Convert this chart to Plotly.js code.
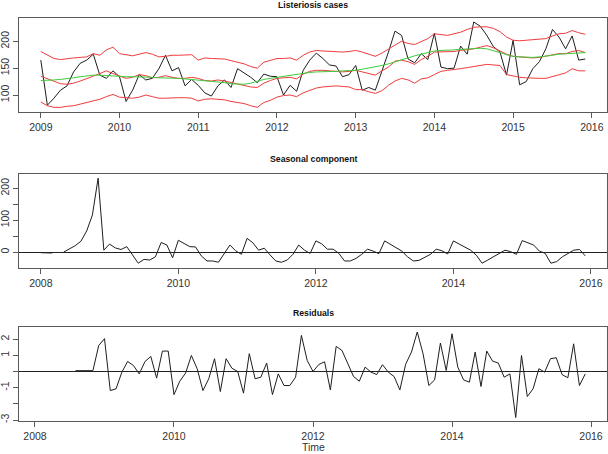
<!DOCTYPE html>
<html><head><meta charset="utf-8">
<script src="https://cdn.plot.ly/plotly-3.0.1.min.js"></script>
<style>html,body{margin:0;padding:0;background:#fff}#chart{width:608px;height:454px}</style>
</head><body><div id="chart"></div><script>
// ---- Data (monthly) ----
const topStartYear = 2009;
const observed = [
  165, 81, 94, 109, 117, 143, 159, 165, 176, 137, 131, 145,
  134, 88, 109, 138, 128, 131, 149, 174, 145, 151, 117, 129,
  118, 104, 98, 117, 128, 114, 149, 141, 133, 123, 139, 135,
  134, 100, 118, 107, 146, 165, 178, 168, 156, 154, 134, 138,
  155, 109, 114, 109, 143, 180, 219, 211, 167, 160, 177, 166,
  215, 152, 149, 150, 191, 176, 236, 228, 211, 190, 180, 137,
  202, 119, 125, 149, 162, 186, 222, 208, 186, 210, 165, 167
];
const trend = [
  127, 127, 128, 129, 130, 132, 134, 136, 137, 137, 136, 135,
  135, 134, 134, 134, 133, 133, 132, 132, 131, 131, 130, 129,
  128, 127, 126, 125, 123, 121, 120, 120, 122, 126, 129, 131,
  133, 135, 137, 139, 141, 142, 143, 143, 144, 144, 145, 145,
  146, 148, 150, 152, 155, 158, 162, 165, 169, 173, 176, 179,
  182, 183, 183, 184, 185, 186, 187, 187, 186, 183, 179, 175,
  172, 171, 170, 170, 171, 172, 174, 176, 177, 178, 179, 179
];
const fitted = [
  135, 130, 125, 121, 120, 122, 126, 130, 135, 140, 145, 140,
  135, 131, 133, 138, 136, 132, 133, 136, 133, 131, 131, 133,
  131, 127, 126, 128, 126, 123, 121, 118, 115, 114, 122, 127,
  131, 132, 133, 130, 139, 144, 146, 146, 145, 144, 143, 144,
  146, 143, 140, 137, 145, 152, 163, 165, 162, 157, 166, 172,
  180, 180, 180, 181, 183, 184, 186, 189, 192, 188, 182, 176,
  172, 171, 170, 169, 170, 172, 175, 177, 177, 181, 183, 179
];
const upperBand = [
  181, 175, 168, 166, 168, 169, 170, 171, 177, 174, 184, 189,
  177, 175, 173, 176, 179, 176, 171, 172, 174, 174, 174, 175,
  165, 169, 168, 168, 167, 164, 161, 158, 153, 150, 161, 165,
  168, 168, 169, 165, 174, 180, 183, 182, 181, 181, 180, 181,
  183, 180, 176, 172, 178, 186, 193, 200, 196, 194, 200, 205,
  214, 212, 211, 214, 217, 222, 226, 227, 227, 224, 218, 208,
  202, 201, 202, 202, 203, 205, 210, 214, 215, 220, 216, 213
];
const lowerBand = [
  87, 80, 77, 77, 79, 80, 83, 86, 89, 92, 97, 101,
  96, 95, 94, 96, 100, 97, 94, 94, 95, 95, 95, 94,
  89, 92, 93, 92, 91, 88, 86, 84, 80, 77, 86, 90,
  96, 99, 100, 97, 104, 109, 113, 115, 116, 117, 116, 115,
  110, 110, 106, 103, 108, 118, 126, 131, 128, 122, 130, 132,
  138, 144, 146, 147, 149, 151, 153, 156, 157, 156, 155, 138,
  135, 133, 132, 131, 131, 131, 134, 137, 141, 149, 145, 145
];

const seasonalStartYear = 2008;
const seasonal = [
  -2, -3, -3, null, 0, 9, 20, 34, 66, 116, 232, 6,
  25, 13, 8, 17, -9, -35, -23, -25, -15, 30, 22, -18,
  37, 26, 17, 16, -12, -28, -28, -32, -4, 22, 4, -7,
  43, 29, 6, 12, -9, -28, -32, -25, -7, 22, 6, -4,
  35, 26, 9, 9, -4, -28, -28, -20, -7, 9, 3, -5,
  35, 25, 14, 3, -15, -28, -26, -17, -7, 9, 4, -6,
  35, 25, 15, 6, -10, -35, -25, -15, -4, 6, 1, -7,
  36, 29, 22, 3, -4, -35, -30, -15, -4, 6, 8, -12
];

const residualStartYear = 2008, residualStartMonth = 1; // February 2008
const residuals = [
  null, null, null, null, null, null, 0.05, 0.05, 0.05, 0.05, 1.6,
  2.03, -1.18, -1.07, -0.04, 0.62, 0.37, -0.15, 0.62, 0.93, -0.41, 1.26, 1.26,
  -1.43, -0.6, -0.1, 0.99, 0.17, -1.18, -0.45, 0.79, -1.24, 0.79, 0.2, 0,
  -1.34, 1.1, -0.45, -0.35, 0.52, -1.43, -0.15, -0.87, -0.87, -0.35, 2.23, 0.68,
  0.0, 0.43, 0.6, -1.14, 1.55, 1.3, 0.48, -0.31, -0.6, 0.27, -0.04, -0.19,
  0.42, -0.04, -0.31, -1.14, 0.45, 1.2, 2.44, 1.1, -0.87, -0.52, 1.76, 0.06,
  2.33, 0.27, -0.52, -0.66, 1.2, -0.93, 1.26, 0.64, 0.52, -0.35, -0.15, -2.85,
  0.99, -1.55, -1.07, 0.17, -0.04, 0.79, 0.85, -0.19, -0.39, 1.71, -0.87, -0.15
];

const topXTicks = [2009, 2010, 2011, 2012, 2013, 2014, 2015, 2016];
const lowXTicks = [2008, 2010, 2012, 2014, 2016];
const topYTicks = [100, 150, 200];
const seasYTicks = [0, 50, 100, 150, 200];
const seasYLabels = ['0', '', '100', '', '200'];
const resYTicks = [-3, -2, -1, 0, 1, 2];
const resYLabels = ['-3', '', '-1', '', '1', '2'];
const titles = ['Listeriosis cases', 'Seasonal component', 'Residuals'];
const xLabel = 'Time';

// ---- time index ----
const monthly = (y0, m0, n) => Array.from({length: n}, (_, i) => y0 + (m0 + i) / 12);
const xTop = monthly(topStartYear, 0, observed.length);
const xSeas = monthly(seasonalStartYear, 0, seasonal.length);
const xRes = monthly(residualStartYear, residualStartMonth, residuals.length);

const BLACK = '#1e1e1e', RED = '#f03c3c', GREEN = '#3ccc3c';
const line = (c) => ({color: c, width: 1});
const traces = [
  {x: xTop, y: observed, xaxis: 'x', yaxis: 'y', mode: 'lines', line: line(BLACK)},
  {x: xTop, y: upperBand, xaxis: 'x', yaxis: 'y', mode: 'lines', line: line(RED)},
  {x: xTop, y: fitted, xaxis: 'x', yaxis: 'y', mode: 'lines', line: line(RED)},
  {x: xTop, y: lowerBand, xaxis: 'x', yaxis: 'y', mode: 'lines', line: line(RED)},
  {x: xTop, y: trend, xaxis: 'x', yaxis: 'y', mode: 'lines', line: line(GREEN)},
  {x: xSeas, y: seasonal, xaxis: 'x2', yaxis: 'y2', mode: 'lines', line: line(BLACK), connectgaps: false},
  {x: xRes, y: residuals, xaxis: 'x3', yaxis: 'y3', mode: 'lines', line: line(BLACK), connectgaps: false}
];

const FONT = {family: 'Liberation Sans, Arial, sans-serif', size: 10.5, color: '#333'};
const axBase = {
  showgrid: false, zeroline: false, showline: true, mirror: true,
  linecolor: '#5a5a5a', linewidth: 1, ticks: 'outside', ticklen: 5,
  tickcolor: '#5a5a5a', tickfont: FONT, tickmode: 'array', fixedrange: true
};
const layout = {
  width: 608, height: 454,
  margin: {l: 19, r: 1, t: 18, b: 33},
  paper_bgcolor: '#fff', plot_bgcolor: '#fff',
  showlegend: false, font: FONT,
  xaxis: Object.assign({}, axBase, {domain: [0, 1], anchor: 'y', range: [2008.723, 2016.193], tickvals: topXTicks}),
  yaxis: Object.assign({}, axBase, {domain: [0.7667, 1], anchor: 'x', range: [68.3, 243.4], tickvals: topYTicks, tickangle: -90}),
  xaxis2: Object.assign({}, axBase, {domain: [0, 1], anchor: 'y2', range: [2007.683, 2016.233], tickvals: lowXTicks}),
  yaxis2: Object.assign({}, axBase, {domain: [0.3797, 0.6129], anchor: 'x2', range: [-50, 245], tickvals: seasYTicks, ticktext: seasYLabels, tickangle: -90,
    zeroline: true, zerolinecolor: '#222', zerolinewidth: 1}),
  xaxis3: Object.assign({}, axBase, {domain: [0, 1], anchor: 'y3', range: [2007.77, 2016.23], tickvals: lowXTicks}),
  yaxis3: Object.assign({}, axBase, {domain: [0, 0.2333], anchor: 'x3', range: [-3.06, 2.75], tickvals: resYTicks, ticktext: resYLabels, tickangle: -90,
    zeroline: true, zerolinecolor: '#222', zerolinewidth: 1}),
  annotations: [
    {text: '<b>' + titles[0] + '</b>', xref: 'paper', yref: 'paper', x: 0.5, y: (421 - 5) / 403, showarrow: false, xanchor: 'center', yanchor: 'middle', font: {family: FONT.family, size: 8.7, color: '#111'}},
    {text: '<b>' + titles[1] + '</b>', xref: 'paper', yref: 'paper', x: 0.5, y: (421 - 159) / 403, showarrow: false, xanchor: 'center', yanchor: 'middle', font: {family: FONT.family, size: 8.7, color: '#111'}},
    {text: '<b>' + titles[2] + '</b>', xref: 'paper', yref: 'paper', x: 0.5, y: (421 - 313) / 403, showarrow: false, xanchor: 'center', yanchor: 'middle', font: {family: FONT.family, size: 8.7, color: '#111'}},
    {text: xLabel, xref: 'paper', yref: 'paper', x: 0.5, y: (421 - 447) / 403, showarrow: false, xanchor: 'center', yanchor: 'middle', font: FONT}
  ]
};
Plotly.newPlot('chart', traces, layout, {displayModeBar: false, staticPlot: true});
</script></body></html>
